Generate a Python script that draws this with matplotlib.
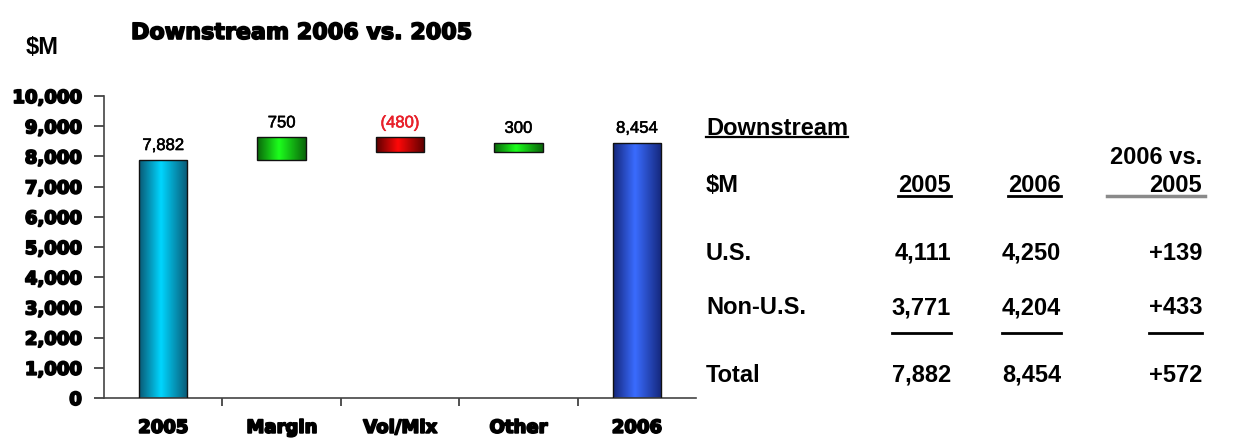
import numpy as np
import matplotlib
matplotlib.use("Agg")
import matplotlib.pyplot as plt
import matplotlib.patheffects as pe
from matplotlib.colors import LinearSegmentedColormap
from matplotlib.lines import Line2D

# waterfall data ($M)
categories = ["2005", "Margin", "Vol/Mix", "Other", "2006"]
start_total = 7882
changes = [750, -480, 300]
end_total = 8454

# regional table data ($M)
regions = ["U.S.", "Non-U.S.", "Total"]
earn_2005 = [4111, 3771, 7882]
earn_2006 = [4250, 4204, 8454]

W, H = 1236, 442
fig = plt.figure(figsize=(W / 100, H / 100), dpi=100)
fig.patch.set_facecolor("white")

# heavy "black" weight look for the chart labels
heavy = [pe.withStroke(linewidth=1.3, foreground="black")]


def fx(x):
    return x / W


def fy(y):
    return 1 - y / H


ax = fig.add_axes([fx(104), fy(398), (696 - 104) / W, (398 - 96) / H])

# bottoms / heights for the floating bars
bottoms, heights, kinds = [0], [start_total], ["start"]
running = start_total
for c in changes:
    if c >= 0:
        bottoms.append(running)
        heights.append(c)
        kinds.append("up")
    else:
        bottoms.append(running + c)
        heights.append(-c)
        kinds.append("down")
    running += c
bottoms.append(0)
heights.append(end_total)
kinds.append("end")

x = np.arange(len(categories))
bars = ax.bar(x, heights, bottom=bottoms, width=0.41, color="none",
              edgecolor="#111111", linewidth=1.0, zorder=3)

shades = {
    "start": ["#0a5874", "#00d6ff", "#0a5874"],
    "end": ["#14267a", "#3a6cff", "#14267a"],
    "up": ["#0a650a", "#1cff1c", "#0a650a"],
    "down": ["#5a0000", "#ff0808", "#5a0000"],
}
grad = np.linspace(0, 1, 256).reshape(1, -1)
for bar, kind in zip(bars, kinds):
    cmap = LinearSegmentedColormap.from_list(kind, list(zip([0, 0.45, 1], shades[kind])))
    bx, by = bar.get_x(), bar.get_y()
    bw, bh = bar.get_width(), bar.get_height()
    im = ax.imshow(grad, cmap=cmap, aspect="auto", extent=[bx, bx + bw, by, by + bh],
                   zorder=2, interpolation="bicubic")
    im.set_clip_path(bar)

# value labels
labels = [f"{start_total:,}"] + [f"{c:,}" if c >= 0 else f"({-c:,})" for c in changes] + [f"{end_total:,}"]
for bar, lab, kind in zip(bars, labels, kinds):
    top = bar.get_y() + bar.get_height()
    col = "#e8202a" if kind == "down" else "black"
    ax.annotate(lab, (bar.get_x() + bar.get_width() / 2, top), xytext=(0, 5),
                textcoords="offset points", ha="center", va="bottom",
                fontsize=12, family="Liberation Sans", color=col,
                path_effects=[pe.withStroke(linewidth=0.4, foreground=col)])

ax.set_xlim(-0.5, len(categories) - 0.5)
ax.set_ylim(0, 10000)
ax.set_yticks(np.arange(0, 10001, 1000))
ax.set_yticklabels([f"{v:,}" for v in range(0, 10001, 1000)],
                   fontsize=13, fontweight="bold", family="DejaVu Sans")
ax.set_xticks(x)
ax.set_xticklabels(categories, fontsize=13, fontweight="bold", family="DejaVu Sans")
for lab in ax.get_xticklabels() + ax.get_yticklabels():
    lab.set_path_effects(heavy)
ax.set_xticks(x[:-1] + 0.5, minor=True)
ax.tick_params(axis="x", which="major", length=0, pad=15)
ax.tick_params(axis="x", which="minor", length=6, width=1.2, color="#333333", direction="out")
ax.tick_params(axis="y", length=7, width=1.2, color="#333333", pad=9)
for side in ("top", "right"):
    ax.spines[side].set_visible(False)
for side in ("left", "bottom"):
    ax.spines[side].set_color("#444444")
    ax.spines[side].set_linewidth(1.2)

fig.text(fx(131), fy(33), "Downstream 2006 vs. 2005", fontsize=16, fontweight="bold",
         family="DejaVu Sans", ha="left", va="center",
         path_effects=[pe.withStroke(linewidth=1.2, foreground="black")])
fig.text(fx(26), fy(48), "$M", fontsize=17, fontweight="bold",
         family="Liberation Sans", ha="left", va="center")

# summary table on the right
tkw = dict(fontsize=17, fontweight="bold", family="Liberation Sans", va="center")
col_left = 706
col_r = [951, 1061, 1202]

t_head = fig.text(fx(col_left), fy(128), "Downstream", ha="left", **tkw)
fig.text(fx(col_left), fy(185), "$M", ha="left", **tkw)
t_y1 = fig.text(fx(col_r[0]), fy(185), "2005", ha="right", **tkw)
t_y2 = fig.text(fx(col_r[1]), fy(185), "2006", ha="right", **tkw)
fig.text(fx(col_r[2]), fy(157), "2006 vs.", ha="right", **tkw)
fig.text(fx(col_r[2]), fy(185), "2005", ha="right", **tkw)

row_y = [253, 308, 375]
underlined = []
for i, (name, a, b) in enumerate(zip(regions, earn_2005, earn_2006)):
    fig.text(fx(col_left), fy(row_y[i]), name, ha="left", **tkw)
    cells = [f"{a:,}", f"{b:,}", f"{b - a:+,}"]
    for xr, s in zip(col_r, cells):
        t = fig.text(fx(xr), fy(row_y[i]), s, ha="right", **tkw)
        if name == "Non-U.S.":
            underlined.append(t)

fig.canvas.draw()
renderer = fig.canvas.get_renderer()


def underline(t, y_px, lw=2.0, color="black"):
    bb = t.get_window_extent(renderer)
    fig.add_artist(Line2D([bb.x0 / W, bb.x1 / W], [fy(y_px)] * 2,
                          transform=fig.transFigure, color=color, lw=lw))


underline(t_head, 137, lw=1.6)
underline(t_y1, 196)
underline(t_y2, 196)
for t in underlined:
    underline(t, 333)
fig.add_artist(Line2D([fx(1107), fx(1205)], [fy(196)] * 2, transform=fig.transFigure,
                      color="#8a8a8a", lw=2.5))

fig.savefig("out.png", dpi=100, facecolor="white")
